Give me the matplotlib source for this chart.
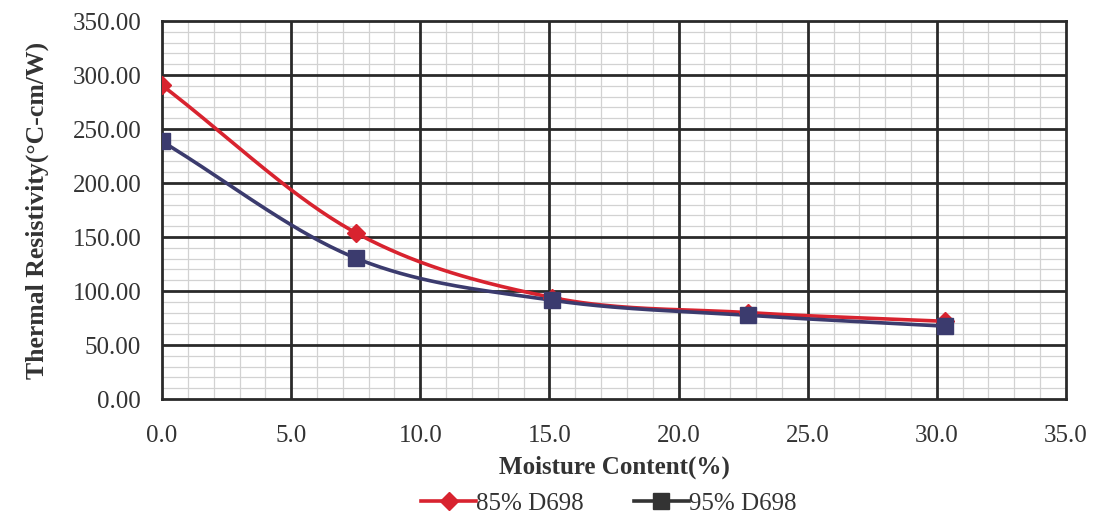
import numpy as np
import matplotlib
matplotlib.use("Agg")
import matplotlib.pyplot as plt
from matplotlib.ticker import MultipleLocator, FormatStrFormatter
from matplotlib.lines import Line2D

# Data
moisture_85 = [0.0, 7.5, 15.1, 22.7, 30.3]
resist_85 = [290.5, 154.0, 94.0, 80.0, 72.0]
moisture_95 = [0.0, 7.5, 15.1, 22.7, 30.3]
resist_95 = [238.5, 130.5, 91.5, 77.5, 67.5]
series_labels = ["85% D698", "95% D698"]


def smooth(x, y, n=40):
    # Catmull-Rom style smoothing (like Excel smoothed lines)
    x = np.asarray(x, float)
    y = np.asarray(y, float)
    px = np.concatenate([[2 * x[0] - x[1]], x, [2 * x[-1] - x[-2]]])
    py = np.concatenate([[2 * y[0] - y[1]], y, [2 * y[-1] - y[-2]]])
    xs, ys = [], []
    t = np.linspace(0, 1, n)
    for i in range(1, len(px) - 2):
        p0, p1, p2, p3 = px[i - 1], px[i], px[i + 1], px[i + 2]
        q0, q1, q2, q3 = py[i - 1], py[i], py[i + 1], py[i + 2]
        c1x, c1y = p1 + (p2 - p0) / 6, q1 + (q2 - q0) / 6
        c2x, c2y = p2 - (p3 - p1) / 6, q2 - (q3 - q1) / 6
        bx = (1 - t) ** 3 * p1 + 3 * (1 - t) ** 2 * t * c1x + 3 * (1 - t) * t ** 2 * c2x + t ** 3 * p2
        by = (1 - t) ** 3 * q1 + 3 * (1 - t) ** 2 * t * c1y + 3 * (1 - t) * t ** 2 * c2y + t ** 3 * q2
        xs.extend(bx)
        ys.extend(by)
    return np.array(xs), np.array(ys)


plt.rcParams['font.family'] = ['Liberation Serif', 'DejaVu Serif']

fig = plt.figure(figsize=(10.97, 5.14), dpi=100)
ax = fig.add_axes([0.1477, 0.2237, 0.8240, 0.7353])

red = "#d8232f"
navy = "#3b3b6e"
gridc = "#2a2a2a"

ax.set_xlim(0, 35)
ax.set_ylim(0, 350)
ax.xaxis.set_major_locator(MultipleLocator(5))
ax.xaxis.set_minor_locator(MultipleLocator(1))
ax.yaxis.set_major_locator(MultipleLocator(50))
ax.yaxis.set_minor_locator(MultipleLocator(10))
ax.xaxis.set_major_formatter(FormatStrFormatter('%.1f'))
ax.yaxis.set_major_formatter(FormatStrFormatter('%.2f'))
ax.set_axisbelow(True)

ax.grid(which='minor', color='#d2d2d2', lw=0.9)
for xv in ax.get_xticks():
    if 0 < xv < 35:
        ax.axvline(xv, color=gridc, lw=2.0, zorder=1.5)
for yv in ax.get_yticks():
    if 0 < yv < 350:
        ax.axhline(yv, color=gridc, lw=2.0, zorder=1.5)

sx, sy = smooth(moisture_85, resist_85)
ax.plot(sx, sy, color=red, lw=2.6, zorder=3)
ax.plot(moisture_85, resist_85, ls='none', marker='D', ms=9, color=red, zorder=4)
sx, sy = smooth(moisture_95, resist_95)
ax.plot(sx, sy, color=navy, lw=2.6, zorder=3)
ax.plot(moisture_95, resist_95, ls='none', marker='s', ms=12, color=navy, zorder=4)

ax.tick_params(which='both', length=0)
ax.tick_params(axis='y', labelsize=18, colors='#333333', pad=15)
ax.tick_params(axis='x', labelsize=18, colors='#333333', pad=19)
for s in ax.spines.values():
    s.set_color(gridc)
    s.set_linewidth(2.0)

ax.set_xlabel("Moisture Content(%)", fontsize=18, fontweight='bold', color='#333333', labelpad=6)
ax.set_ylabel("Thermal Resistivity(°C-cm/W)", fontsize=18.5, fontweight='bold', color='#333333', labelpad=17)

handles = [Line2D([], [], color=red, marker='D', ms=9, lw=2.6),
           Line2D([], [], color='#333333', marker='s', ms=11, lw=2.6)]
fig.legend(handles, series_labels, loc='lower center', bbox_to_anchor=(0.555, -0.045), ncol=2,
           frameon=False, fontsize=18, handlelength=2.2, handletextpad=0.0, columnspacing=2.0,
           labelcolor='#333333')

fig.savefig("out.png", dpi=100, facecolor='white')
